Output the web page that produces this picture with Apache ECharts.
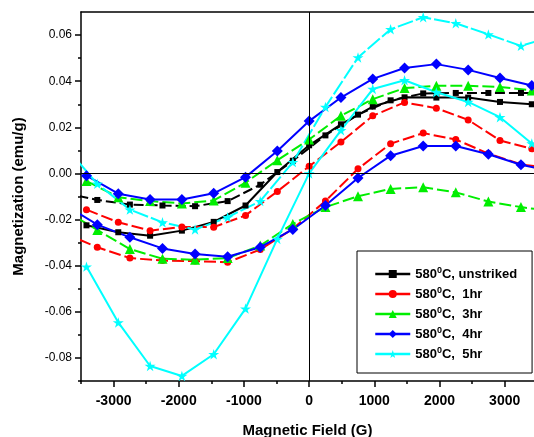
<!DOCTYPE html>
<html><head><meta charset="utf-8">
<script src="https://cdn.jsdelivr.net/npm/echarts@6/dist/echarts.min.js"></script>
<style>html,body{margin:0;padding:0;background:#fff}#c{width:534px;height:437px}</style>
</head><body><div id="c"></div>
<script>
// ---- data ----
const seriesNames = ['unstriked', '1hr', '3hr', '4hr', '5hr'];
// branch A field values (G) and branch B field values (G)
const fieldA = [-3416, -2928, -2440, -1952, -1464, -976, -488, 0, 488, 976, 1464, 1952, 2440, 2928, 3416];
const fieldB = [-3750, -3250, -2750, -2250, -1750, -1250, -750, -250, 250, 750, 1250, 1750, 2250, 2750, 3250, 3750];

const unstrikedA = [-0.0225, -0.0255, -0.027, -0.0248, -0.021, -0.0139, 0.0006, 0.0122, 0.0213, 0.029, 0.033, 0.0329, 0.0329, 0.031, 0.030];
const unstrikedB = [-0.0084, -0.0115, -0.0135, -0.0139, -0.0142, -0.012, -0.0049, 0.0055, 0.0165, 0.0255, 0.0317, 0.0347, 0.0349, 0.0349, 0.0349, 0.0347];

const hr1A = [-0.0157, -0.0212, -0.0248, -0.0232, -0.0233, -0.0182, -0.0078, 0.0031, 0.0136, 0.025, 0.0308, 0.0283, 0.0232, 0.0143, 0.0107];
const hr1B = [-0.026, -0.032, -0.0367, -0.0378, -0.038, -0.0385, -0.033, -0.024, -0.012, 0.002, 0.0129, 0.0175, 0.0147, 0.0086, 0.0039, 0.0022];

const hr3A = [-0.0033, -0.0103, -0.012, -0.013, -0.0117, -0.004, 0.0057, 0.0147, 0.025, 0.0322, 0.037, 0.038, 0.038, 0.0375, 0.036];
const hr3B = [-0.0161, -0.0245, -0.0328, -0.037, -0.0374, -0.0367, -0.0313, -0.0219, -0.0146, -0.0099, -0.0067, -0.006, -0.0082, -0.0122, -0.0146, -0.0165];

const hr4A = [-0.001, -0.0088, -0.0113, -0.0113, -0.0086, -0.0016, 0.0097, 0.0227, 0.0329, 0.041, 0.0457, 0.0474, 0.0449, 0.0414, 0.0381];
const hr4B = [-0.0136, -0.0222, -0.0277, -0.0325, -0.0349, -0.0361, -0.032, -0.0243, -0.0139, -0.002, 0.0077, 0.0119, 0.0119, 0.0083, 0.0038, 0.0007];

const hr5A = [-0.0404, -0.0646, -0.0835, -0.0878, -0.0784, -0.0586, -0.0284, 0.0, 0.0187, 0.0366, 0.0404, 0.0352, 0.031, 0.0244, 0.013];
const hr5B = [0.0119, -0.0045, -0.0157, -0.0212, -0.0243, -0.019, -0.012, 0.0049, 0.0288, 0.0503, 0.0625, 0.0677, 0.0651, 0.0603, 0.0553, 0.0596];

const xMajorTicks = [-3000, -2000, -1000, 0, 1000, 2000, 3000];
const xMinorTicks = [-3500, -2500, -1500, -500, 500, 1500, 2500];
const yMajorTicks = [-0.08, -0.06, -0.04, -0.02, 0, 0.02, 0.04, 0.06];
const yMinorTicks = [-0.09, -0.07, -0.05, -0.03, -0.01, 0.01, 0.03, 0.05];

// ---- styling ----
const FONT = 'Liberation Sans, Arial, sans-serif';
const STAR = 'path://M50,0 L61,35 L98,35 L68,57 L79,91 L50,70 L21,91 L32,57 L2,35 L39,35 Z';
const styles = {
  'unstriked': {color: '#000000', symbol: 'rect', size: 6},
  '1hr': {color: '#ff0000', symbol: 'circle', size: 7},
  '3hr': {color: '#00ee00', symbol: 'triangle', size: 10},
  '4hr': {color: '#0000ff', symbol: 'diamond', size: 11},
  '5hr': {color: '#00ffff', symbol: STAR, size: 11}
};
const branches = [
  ['unstriked', unstrikedA, unstrikedB, 'solid', [10, 4]],
  ['1hr', hr1A, hr1B, [12, 4], [12, 4]],
  ['3hr', hr3A, hr3B, [12, 4], [12, 4]],
  ['4hr', hr4A, hr4B, 'solid', 'solid'],
  ['5hr', hr5A, hr5B, 'solid', [16, 3]]
];
function zip(xs, ys) { return xs.map((x, i) => [x, ys[i]]); }

const series = [];
branches.forEach(([name, a, b, dashA, dashB]) => {
  const st = styles[name];
  [[fieldA, a, dashA], [fieldB, b, dashB]].forEach(([xs, ys, dash]) => {
    series.push({
      name: name, type: 'line', data: zip(xs, ys),
      symbol: st.symbol, symbolSize: st.size, symbolKeepAspect: true,
      itemStyle: {color: st.color},
      lineStyle: {color: st.color, width: 2, type: dash},
      clip: true, animation: false
    });
  });
});
series[0].markLine = {
  silent: true, symbol: ['none', 'none'], animation: false,
  label: {show: false},
  lineStyle: {color: '#000', width: 1, type: 'solid'},
  data: [{xAxis: 0}, {yAxis: 0}]
};

const axisLineStyle = {color: '#000', width: 1.5};
const option = {
  backgroundColor: '#fff',
  animation: false,
  grid: {left: 81, top: 12, right: 0, bottom: 56, containLabel: false, outerBoundsMode: 'none'},
  xAxis: [
    {type: 'value', min: -3500, max: 3450, position: 'bottom',
     name: 'Magnetic Field (G)', nameLocation: 'middle', nameGap: 42,
     nameTextStyle: {fontFamily: FONT, fontWeight: 'bold', fontSize: 15, color: '#000'},
     axisLine: {onZero: false, lineStyle: axisLineStyle},
     axisTick: {customValues: xMajorTicks, length: 6, lineStyle: axisLineStyle},
     axisLabel: {customValues: xMajorTicks, margin: 13, fontFamily: FONT, fontWeight: 'bold', fontSize: 14, color: '#000',
                 formatter: v => String(v)},
     splitLine: {show: false}},
    {type: 'value', min: -3500, max: 3450, position: 'bottom',
     axisLine: {show: false, onZero: false},
     axisTick: {customValues: xMinorTicks, length: 3, lineStyle: axisLineStyle},
     axisLabel: {show: false}, splitLine: {show: false}},
    {type: 'value', min: -3500, max: 3450, position: 'top',
     axisLine: {show: true, onZero: false, lineStyle: axisLineStyle},
     axisTick: {show: false}, axisLabel: {show: false}, splitLine: {show: false}}
  ],
  yAxis: [
    {type: 'value', min: -0.09, max: 0.07, position: 'left',
     name: 'Magnetization (emu/g)', nameLocation: 'middle', nameGap: 55,
     nameTextStyle: {fontFamily: FONT, fontWeight: 'bold', fontSize: 15, color: '#000'},
     axisLine: {onZero: false, lineStyle: axisLineStyle},
     axisTick: {customValues: yMajorTicks, length: 6, lineStyle: axisLineStyle},
     axisLabel: {customValues: yMajorTicks, margin: 9, fontFamily: FONT, fontSize: 12, color: '#000',
                 formatter: v => (Math.abs(v) < 1e-9 ? 0 : v).toFixed(2)},
     splitLine: {show: false}},
    {type: 'value', min: -0.09, max: 0.07, position: 'left',
     axisLine: {show: false, onZero: false},
     axisTick: {customValues: yMinorTicks, length: 3, lineStyle: axisLineStyle},
     axisLabel: {show: false}, splitLine: {show: false}}
  ],
  legend: {
    data: seriesNames, orient: 'vertical', left: 357, top: 251,
    padding: [15, 15, 11, 17], itemWidth: 35, itemHeight: 10, itemGap: 4,
    borderColor: '#000', borderWidth: 1, backgroundColor: '#fff',
    lineStyle: {type: 'solid', width: 2.5},
    textStyle: {fontFamily: FONT, fontWeight: 'bold', fontSize: 13, color: '#000', lineHeight: 16,
      rich: {s: {fontFamily: FONT, fontWeight: 'bold', fontSize: 9, verticalAlign: 'top', lineHeight: 10}}},
    formatter: n => '580{s|0}C, ' + (n === 'unstriked' ? 'unstriked' : ' ' + n)
  },
  series: series
};
const chart = echarts.init(document.getElementById('c'), null, {renderer: 'canvas'});
chart.setOption(option);
</script>
</body></html>
